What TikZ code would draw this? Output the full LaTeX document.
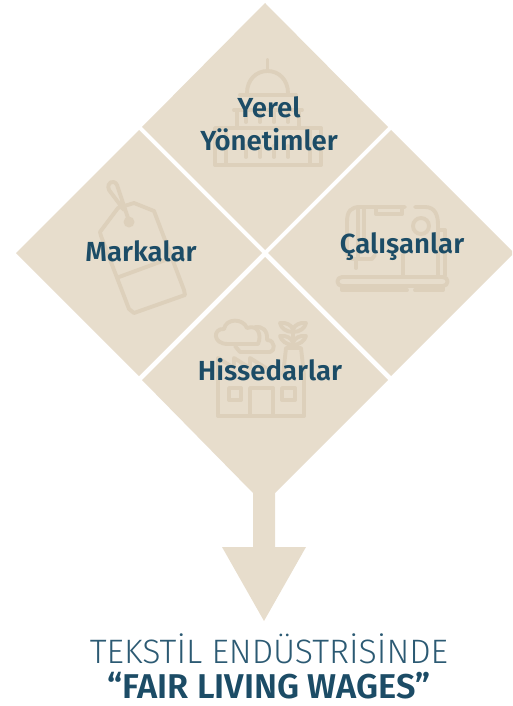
\documentclass[tikz,border=0pt]{standalone}
\usepackage{fontspec}
\setmainfont{Fira Sans}[BoldFont={Fira Sans SemiBold}]
\newfontfamily\lightf{Fira Sans Light}
\definecolor{beige}{HTML}{E7DDCC}
\definecolor{icon}{HTML}{DDD0BB}
\definecolor{navy}{HTML}{1C4C66}
\definecolor{titleblue}{HTML}{2C5A73}
\tikzset{
  x=0.75pt,y=-0.75pt,
  petal/.style={fill=beige,draw=none},
  ic/.style={draw=icon,line width=2.9pt,line cap=round,line join=round,fill=none},
  lab/.style={text=navy,font=\fontsize{20.7}{25}\selectfont\bfseries,align=center,inner sep=0pt},
}
\begin{document}
\begin{tikzpicture}
\useasboundingbox (0,0) rectangle (512,706);
% petals
\fill[petal] (265,3) -- (388,127) -- (265,250) -- (142,127) -- cycle;
\fill[petal] (139,130) -- (262,253) -- (139,376) -- (16,253) -- cycle;
\fill[petal] (391,130) -- (512,251) -- (512,255) -- (391,376) -- (268,253) -- cycle;
\fill[petal] (265,257) -- (388,380) -- (275,493) -- (275,547) -- (306,547) -- (264,621) -- (222,547) -- (253,547) -- (253,493) -- (142,380) -- cycle;
% dome icon
\draw[ic] (247,93) .. controls (247,80) and (256,71) .. (267.5,71) .. controls (279,71) and (288,80) .. (288,93);
\draw[ic] (267.5,71) -- (267.5,60);
\draw[ic] (240,95) -- (296,95);
\draw[ic] (234,110) -- (302,110);
\draw[ic] (237,110) -- (237,126) (299,110) -- (299,126);
\draw[ic] (215,128) -- (321,128) -- (321,165) -- (215,165) -- cycle;
\draw[ic] (226,128) -- (226,165) (310,128) -- (310,165);
\foreach \x in {246,260,274,288}{\draw[ic] (\x,112) -- (\x,122); \draw[ic] (\x,146) -- (\x,157);}
% tag icon
\draw[ic] (124,210) -- (109,190) .. controls (106,182) and (114,179) .. (117,185) -- (128,218);
\fill[icon] (129,222) circle [radius=5.5];
\draw[ic] (100,232) -- (118,208) -- (134,203) -- (154,211) -- (184,290) -- (185,295) -- (134,313) -- (129,309) -- (101,236) -- cycle;
\draw[ic] (119,277) -- (168,259);
% sewing machine icon
\draw[ic] (347,250) -- (347,222) .. controls (347,211) and (351,207) .. (360,207) -- (405,207);
\draw[ic] (415,207) -- (425,207) .. controls (435,207) and (438,215) .. (438,225) -- (438,275);
\draw[ic] (358,207) -- (358,258) (364,207) -- (364,245);
\draw[ic] (347,250) .. controls (347,258) and (350,259) .. (355,259) -- (372,259) -- (375,255);
\draw[ic] (376,207) -- (376,214) -- (402,214) -- (402,207);
\draw[ic] (421,226) circle [radius=8];
\draw[ic] (438,230) -- (445,230) -- (445,275);
\draw[ic] (403,255) -- (403,275);
\draw[ic] (356,259) -- (356,268);
\draw[ic] (342,277) -- (443,277) .. controls (449,277) and (449,286) .. (443,286) -- (342,286) .. controls (336,286) and (336,277) .. (342,277);
\draw[ic] (342,287) -- (342,290) -- (407,290) (415,290) -- (443,290) -- (443,287);
% factory icon
\draw[ic] (218,375) -- (218,416) -- (304,416) -- (304,375);
\draw[ic] (218,375) -- (218,358) -- (234,368) -- (234,358) -- (250,368) -- (250,358) -- (266,368);
\draw[ic] (250,416) -- (250,388) -- (273,388) -- (273,416);
\draw[ic] (229,388) rectangle (241,400);
\draw[ic] (282,388) rectangle (295,400);
\draw[ic] (283,375) -- (286,348) -- (301,348) -- (304,375);
\draw[ic] (293,348) -- (293,328);
\draw[ic] (293,345) .. controls (286,345) and (281,340) .. (280,336) .. controls (286,335) and (291,338) .. (293,342);
\draw[ic] (293,345) .. controls (300,345) and (305,340) .. (306,336) .. controls (300,335) and (295,338) .. (293,342);
\draw[ic] (293,332) .. controls (286,332) and (281,328) .. (280,323) .. controls (286,322) and (291,325) .. (293,329);
\draw[ic] (293,332) .. controls (300,332) and (305,328) .. (306,323) .. controls (300,322) and (295,325) .. (293,329);
\draw[ic] (228,344) .. controls (212,344) and (213,328) .. (224,329) .. controls (226,318) and (243,318) .. (247,328) .. controls (258,324) and (262,335) .. (258,344) -- (228,344);
\draw[ic] (255,327) .. controls (262,326) and (268,330) .. (267,340) .. controls (276,340) and (275,352) .. (270,352) -- (240,352) -- (235,346);
% labels
\node[lab] (yerel) at (269,124) {Yerel\\Yönetimler};
\node[lab] (markalar) at (141,251) {Markalar};
\node[lab] (calisan) at (402,247) {Çalışanlar};
\node[lab] (hisse) at (270,370) {Hissedarlar};
\node[text=titleblue,font=\lightf\fontsize{25.4}{28}\selectfont,inner sep=0pt] (t1) at (269,649) {TEKSTİL ENDÜSTRİSİNDE};
\node[text=navy,font=\fontsize{25.8}{28}\selectfont\bfseries,inner sep=0pt] (t2) at (269,686) {“FAIR LIVING WAGES”};
\end{tikzpicture}
\end{document}
